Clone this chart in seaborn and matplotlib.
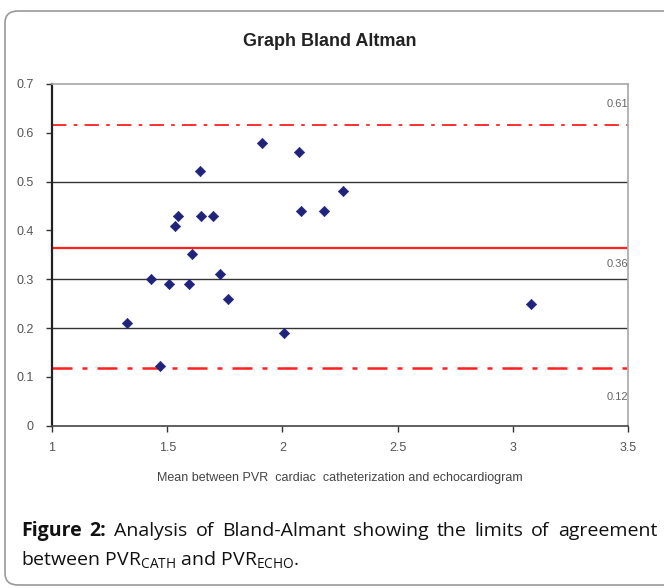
import matplotlib
matplotlib.use("Agg")
import matplotlib.pyplot as plt
import seaborn as sns
import pandas as pd
from matplotlib.patches import FancyBboxPatch

# Bland-Altman data
mean_pvr = [1.326, 1.43, 1.47, 1.508, 1.534, 1.547, 1.595, 1.608, 1.642, 1.647,
            1.699, 1.729, 1.764, 1.911, 2.007, 2.072, 2.08, 2.18, 2.263, 3.08]
diff_pvr = [0.21, 0.30, 0.122, 0.29, 0.409, 0.43, 0.29, 0.352, 0.522, 0.43,
            0.43, 0.31, 0.26, 0.58, 0.19, 0.56, 0.44, 0.44, 0.48, 0.25]
mean_diff = 0.365
upper_loa = 0.615
lower_loa = 0.118
limit_labels = ["0.61", "0.36", "0.12"]
x_ticks = [1, 1.5, 2, 2.5, 3, 3.5]
x_labels = ["1", "1.5", "2", "2.5", "3", "3.5"]
y_ticks = [0, 0.1, 0.2, 0.3, 0.4, 0.5, 0.6, 0.7]
y_labels = ["0", "0.1", "0.2", "0.3", "0.4", "0.5", "0.6", "0.7"]
grid_levels = [0.2, 0.3, 0.5]
caption_words = ["Figure", "2:", "Analysis", "of", "Bland-Almant", "showing",
                 "the", "limits", "of", "agreement"]

df = pd.DataFrame({"mean": mean_pvr, "diff": diff_pvr})

sns.set_theme(style="white")
plt.rcParams["font.family"] = ["Liberation Sans", "DejaVu Sans"]

fig = plt.figure(figsize=(6.64, 5.88), dpi=100)
ax = fig.add_axes([52 / 664, 1 - 425.7 / 588, (628 - 52) / 664, (425.7 - 84) / 588])

# outer rounded frame
frame = FancyBboxPatch((5 / 664, 3 / 588), 700 / 664, 574 / 588,
                       boxstyle="round,pad=0,rounding_size=0.02",
                       transform=fig.transFigure, fill=False,
                       edgecolor="#9a9a9a", linewidth=1.2)
fig.patches.append(frame)

for g in grid_levels:
    ax.axhline(g, color="#333333", linewidth=1.0, zorder=1)

ax.axhline(upper_loa, color="#ff2020", linewidth=1.3, linestyle="-.",
           dashes=(8, 4, 2, 4), zorder=2)
ax.axhline(mean_diff, color="#ff2020", linewidth=1.6, zorder=2)
ax.axhline(lower_loa, color="#ff2020", linewidth=1.8, linestyle="-.",
           dashes=(8, 4, 2, 4), zorder=2)

sns.scatterplot(data=df, x="mean", y="diff", ax=ax, marker="D", s=28,
                color="#1f237a", edgecolor="#1f237a", zorder=3)

ax.set_xlim(1, 3.5)
ax.set_ylim(0, 0.7)
ax.set_xticks(x_ticks)
ax.set_xticklabels(x_labels)
ax.set_yticks(y_ticks)
ax.set_yticklabels(y_labels)
ax.tick_params(axis="both", which="both", length=4, width=1, color="#333333",
               labelsize=9, labelcolor="#555555", direction="out",
               bottom=True, left=True)
ax.tick_params(axis="y", pad=9)
ax.tick_params(axis="x", pad=8)

ax.spines["left"].set_color("#222222")
ax.spines["left"].set_linewidth(1.6)
ax.spines["bottom"].set_color("#444444")
ax.spines["bottom"].set_linewidth(1.2)
ax.spines["top"].set_color("#aaaaaa")
ax.spines["right"].set_color("#aaaaaa")

ax.set_xlabel("Mean between PVR  cardiac  catheterization and echocardiogram",
              fontsize=9, color="#444444", labelpad=13)
ax.set_ylabel("")

# limit labels near right edge
ax.text(3.5, upper_loa + 0.045, limit_labels[0], ha="right", va="center",
        fontsize=8, color="#666666")
ax.text(3.5, mean_diff - 0.033, limit_labels[1], ha="right", va="center",
        fontsize=8, color="#666666")
ax.text(3.5, lower_loa - 0.06, limit_labels[2], ha="right", va="center",
        fontsize=8, color="#666666")

fig.text(330 / 664, 1 - 41 / 588, "Graph Bland Altman", ha="center", va="center",
         fontsize=13, fontweight="bold", color="#222222")

# caption, first line justified word by word between x=21 and x=657
cap_font = ["Open Sans", "DejaVu Sans"]
fig.canvas.draw()
renderer = fig.canvas.get_renderer()
word_texts = []
for i, w in enumerate(caption_words):
    t = fig.text(0, 1 - 531 / 588, w, ha="left", va="center", fontsize=14,
                 fontweight="bold" if i < 2 else "normal",
                 family=cap_font, color="#111111")
    word_texts.append(t)
widths = [t.get_window_extent(renderer).width for t in word_texts]
gap = (657 - 21 - sum(widths)) / (len(widths) - 1)
x = 21
for t, wdt in zip(word_texts, widths):
    t.set_x(x / 664)
    x += wdt + gap

fig.text(21 / 664, 1 - 560 / 588,
         r"between PVR$_{\mathregular{CATH}}$ and PVR$_{\mathregular{ECHO}}$.",
         ha="left", va="center", fontsize=14, family=cap_font, color="#111111")

fig.savefig("out.png", dpi=100)
